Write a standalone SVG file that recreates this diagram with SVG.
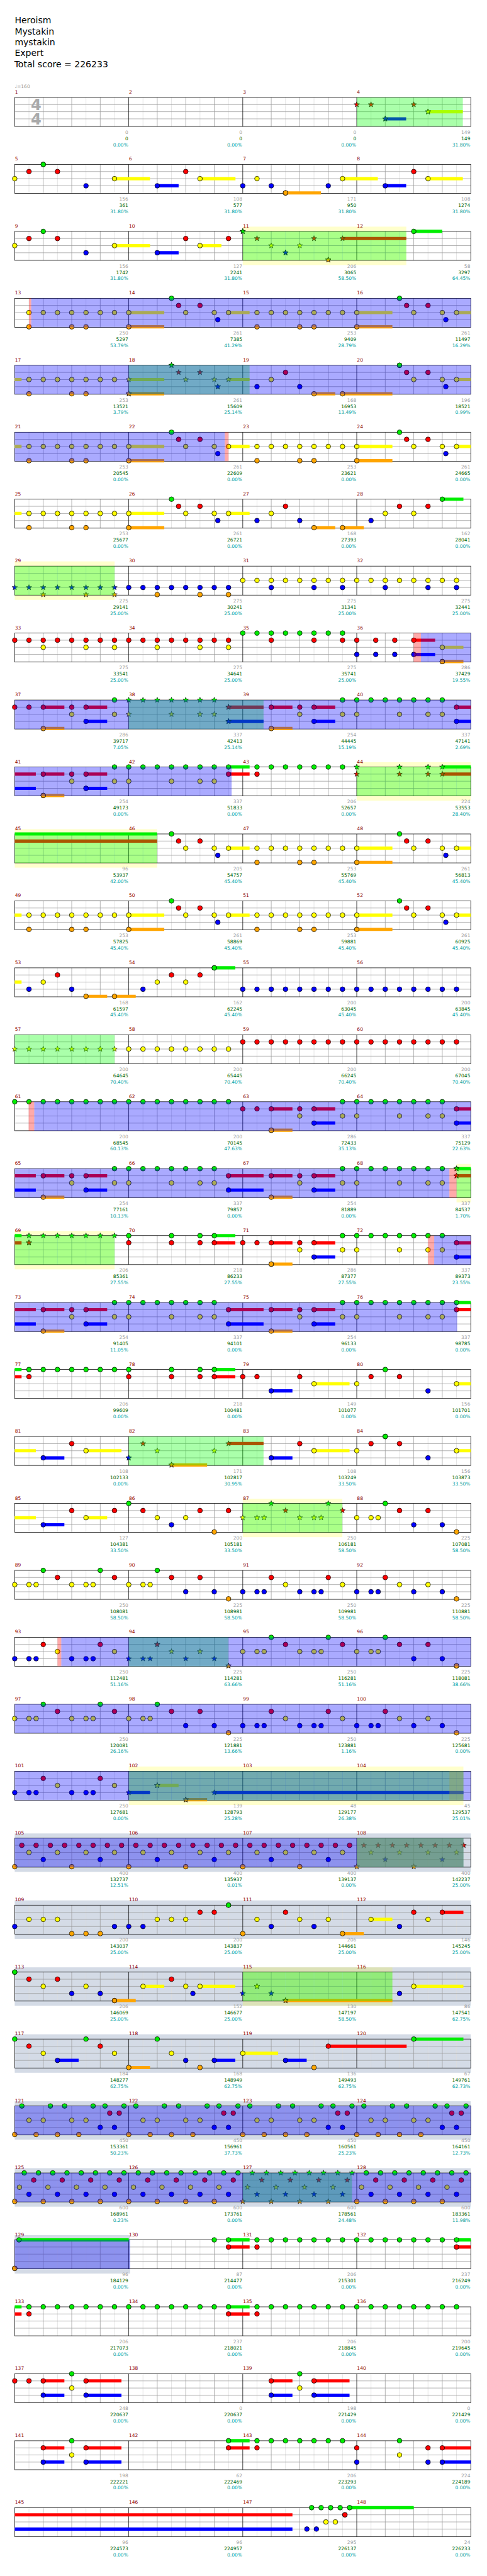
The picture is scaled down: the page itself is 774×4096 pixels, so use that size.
<svg xmlns="http://www.w3.org/2000/svg" width="774" height="4096" viewBox="0 0 774 4096">
<style>
text{font-family:"DejaVu Sans","Liberation Sans",sans-serif}
.hd{font-size:18.6px;fill:#000}
.mn{font-size:10px;fill:#8b0000}
.s1,.s2,.s3{font-size:10px;text-anchor:end}
.s1{fill:#a0a0a0}.s2{fill:#006400}.s3{fill:#00a0a0}
polyline{fill:none;stroke:none}
.nG{marker:url(#mG)}.nR{marker:url(#mR)}.nY{marker:url(#mY)}.nB{marker:url(#mB)}.nO{marker:url(#mO)}
.xG{marker:url(#sG)}.xR{marker:url(#sR)}.xY{marker:url(#sY)}.xB{marker:url(#sB)}.xO{marker:url(#sO)}
.uG,.uR,.uY,.uB,.uO{stroke-width:6.8;fill:none}
.uG{stroke:#0e0}.uR{stroke:#f00}.uY{stroke:#ff0}.uB{stroke:#00f}.uO{stroke:#ffa500}
.oG{fill:#0f0;fill-opacity:.333}.oB{fill:#00f;fill-opacity:.333}.oP{fill:#f00;fill-opacity:.333}.oO{fill:#99a54d;fill-opacity:.38}
.bY{fill:#ff0;fill-opacity:.2}.bS{fill:#d4dbe6}
</style>
<defs>
<polygon id="st" points="0,-6 1.47,-2.02 5.71,-1.85 2.38,0.77 3.53,4.85 0,2.5 -3.53,4.85 -2.38,0.77 -5.71,-1.85 -1.47,-2.02"/>
<marker id="mG" markerUnits="userSpaceOnUse" overflow="visible"><circle r="5" fill="#0e0" stroke="#000"/></marker>
<marker id="mR" markerUnits="userSpaceOnUse" overflow="visible"><circle r="5" fill="#f00" stroke="#000"/></marker>
<marker id="mY" markerUnits="userSpaceOnUse" overflow="visible"><circle r="5" fill="#ff0" stroke="#000"/></marker>
<marker id="mB" markerUnits="userSpaceOnUse" overflow="visible"><circle r="5" fill="#00f" stroke="#000"/></marker>
<marker id="mO" markerUnits="userSpaceOnUse" overflow="visible"><circle r="5" fill="#ffa500" stroke="#000"/></marker>
<marker id="sG" markerUnits="userSpaceOnUse" overflow="visible"><use href="#st" fill="#0e0" stroke="#000" stroke-width=".8"/></marker>
<marker id="sR" markerUnits="userSpaceOnUse" overflow="visible"><use href="#st" fill="#f00" stroke="#000" stroke-width=".8"/></marker>
<marker id="sY" markerUnits="userSpaceOnUse" overflow="visible"><use href="#st" fill="#ff0" stroke="#000" stroke-width=".8"/></marker>
<marker id="sB" markerUnits="userSpaceOnUse" overflow="visible"><use href="#st" fill="#00f" stroke="#000" stroke-width=".8"/></marker>
<marker id="sO" markerUnits="userSpaceOnUse" overflow="visible"><use href="#st" fill="#ffa500" stroke="#000" stroke-width=".8"/></marker>
<g id="grid" fill="none">
<path d="M30 0V61M90 0V61M150 0V61M210 0V61M270 0V61M330 0V61M390 0V61M450 0V61M510 0V61M570 0V61M630 0V61M690 0V61M750 0V61M810 0V61M870 0V61M930 0V61" stroke="#ddd"/>
<path d="M0 15H960M0 30H960M0 45H960M60 0V61M120 0V61M180 0V61M300 0V61M360 0V61M420 0V61M540 0V61M600 0V61M660 0V61M780 0V61M840 0V61M900 0V61" stroke="#999"/>
<path d="M240 0V61M480 0V61M720 0V61" stroke="#000"/>
<rect width="960" height="61" stroke="#000"/>
</g>
</defs>
<g transform="scale(0.755)">
<rect x="0" y="0" width="1024" height="5422" fill="#fff"/>
<g id="title" class="hd">
<text class="hd" x="31" y="49.3">Heroism</text>
<text class="hd" x="31" y="72.3">Mystakin</text>
<text class="hd" x="31" y="95.3">mystakin</text>
<text class="hd" x="31" y="118.3">Expert</text>
<text class="hd" x="30" y="141.3">Total score = 226233</text>
</g>
<text x="31" y="185" style="font-size:10px;fill:#999">♩=160</text>

<g id="r0" transform="translate(31,205.3)">
<use href="#grid"/>
<text x="34" y="26.4" style="font-size:32px;font-weight:bold;fill:#aaa">4</text>
<text x="34" y="56.4" style="font-size:32px;font-weight:bold;fill:#aaa">4</text>
<path class="uB" d="M780 45H824"/><path class="uY" d="M870 30H943.3"/>
<polyline class="xR" points="720,15 750,15 840,15"/><polyline class="xB" points="780,45 780,45"/><polyline class="xY" points="870,30 870,30"/>
<rect class="oG" x="720" width="223.3" height="61"/>
<text class="mn" y="-8"><tspan x="0.5">1</tspan><tspan x="240.5">2</tspan><tspan x="480.5">3</tspan><tspan x="720.5">4</tspan></text>
<text class="s1" y="76.5"><tspan x="239">0</tspan><tspan x="479">0</tspan><tspan x="719">0</tspan><tspan x="959">149</tspan></text>
<text class="s2" y="89.7"><tspan x="239">0</tspan><tspan x="479">0</tspan><tspan x="719">0</tspan><tspan x="959">149</tspan></text>
<text class="s3" y="102.7"><tspan x="239">0.00%</tspan><tspan x="479">0.00%</tspan><tspan x="719">0.00%</tspan><tspan x="959">31.80%</tspan></text>
</g>

<g id="r1" transform="translate(31,346.3)">
<use href="#grid"/>
<path class="uY" d="M210 30H284.7M390 30H464.7M690 30H764.3M870 30H943.3"/><path class="uB" d="M300 45H345M780 45H824"/><path class="uO" d="M570 60H644.7"/>
<polyline class="nY" points="0,30 210,30 390,30 510,30 690,30 870,30"/>
<polyline class="nR" points="30,15 90,15 360,15 840,15"/>
<polyline class="nG" points="60,0 60,0"/>
<polyline class="nB" points="150,45 300,45 480,45 540,45 660,45 780,45"/>
<polyline class="nO" points="570,60 570,60"/>
<text class="mn" y="-8"><tspan x="0.5">5</tspan><tspan x="240.5">6</tspan><tspan x="480.5">7</tspan><tspan x="720.5">8</tspan></text>
<text class="s1" y="76.5"><tspan x="239">156</tspan><tspan x="479">108</tspan><tspan x="719">171</tspan><tspan x="959">108</tspan></text>
<text class="s2" y="89.7"><tspan x="239">361</tspan><tspan x="479">577</tspan><tspan x="719">950</tspan><tspan x="959">1274</tspan></text>
<text class="s3" y="102.7"><tspan x="239">31.80%</tspan><tspan x="479">31.80%</tspan><tspan x="719">31.80%</tspan><tspan x="959">31.80%</tspan></text>
</g>

<g id="r2" transform="translate(31,487.3)">
<rect class="bY" x="480" y="-10" width="344.3" height="81"/>
<use href="#grid"/>
<path class="uY" d="M210 30H284.8M390 30H435"/><path class="uB" d="M300 45H345"/><path class="uR" d="M690 15H824.3"/><path class="uG" d="M840 0H900"/>
<polyline class="nY" points="0,30 210,30 390,30"/>
<polyline class="nR" points="30,15 90,15 360,15 450,15"/>
<polyline class="nG" points="60,0 840,0"/>
<polyline class="nB" points="150,45 300,45"/>
<polyline class="xG" points="480,0 480,0"/>
<polyline class="xR" points="510,15 630,15 690,15"/>
<polyline class="xY" points="540,30 600,30"/>
<polyline class="xB" points="570,45 570,45"/>
<polyline class="xO" points="660,60 660,60"/>
<rect class="oG" x="480" width="344.3" height="61"/>
<text class="mn" y="-8"><tspan x="0.5">9</tspan><tspan x="240.5">10</tspan><tspan x="480.5">11</tspan><tspan x="720.5">12</tspan></text>
<text class="s1" y="76.5"><tspan x="239">156</tspan><tspan x="479">127</tspan><tspan x="719">206</tspan><tspan x="959">58</tspan></text>
<text class="s2" y="89.7"><tspan x="239">1742</tspan><tspan x="479">2241</tspan><tspan x="719">3065</tspan><tspan x="959">3297</tspan></text>
<text class="s3" y="102.7"><tspan x="239">31.80%</tspan><tspan x="479">31.80%</tspan><tspan x="719">58.50%</tspan><tspan x="959">64.45%</tspan></text>
</g>

<g id="r3" transform="translate(31,628.3)">
<use href="#grid"/>
<path class="uY" d="M240 30H314.8M450 30H494.4M720 30H795M930 30H960"/><path class="uO" d="M240 60H314.8M720 60H795"/>
<polyline class="nY" points="30,30 60,30 90,30 120,30 150,30 180,30 210,30 240,30 360,30 420,30 450,30 510,30 540,30 570,30 600,30 630,30 660,30 690,30 720,30 840,30 900,30 930,30"/>
<polyline class="nR" points="345,15 390,15 825,15 870,15"/>
<polyline class="nG" points="330,0 810,0"/>
<polyline class="nB" points="427.5,45 907.5,45"/>
<polyline class="nO" points="30,60 120,60 150,60 240,60 510,60 600,60 630,60 720,60"/>
<rect class="oP" x="30" width="4.7" height="61"/><rect class="oB" x="34.7" width="925.3" height="61"/>
<text class="mn" y="-8"><tspan x="0.5">13</tspan><tspan x="240.5">14</tspan><tspan x="480.5">15</tspan><tspan x="720.5">16</tspan></text>
<text class="s1" y="76.5"><tspan x="239">250</tspan><tspan x="479">261</tspan><tspan x="719">253</tspan><tspan x="959">261</tspan></text>
<text class="s2" y="89.7"><tspan x="239">5297</tspan><tspan x="479">7385</tspan><tspan x="719">9409</tspan><tspan x="959">11497</tspan></text>
<text class="s3" y="102.7"><tspan x="239">53.79%</tspan><tspan x="479">41.29%</tspan><tspan x="719">28.79%</tspan><tspan x="959">16.29%</tspan></text>
</g>

<g id="r4" transform="translate(31,769.3)">
<use href="#grid"/>
<path class="uY" d="M0 30H14.4M240 30H314.8M450 30H494.4M930 30H960"/><path class="uO" d="M240 60H314.8M630 60H674.7M690 60H795"/>
<polyline class="nY" points="30,30 60,30 90,30 120,30 150,30 180,30 210,30 540,30 840,30 900,30 930,30"/>
<polyline class="nO" points="30,60 120,60 150,60 630,60 690,60"/>
<polyline class="nR" points="570,15 825,15 870,15"/>
<polyline class="nG" points="810,0 810,0"/>
<polyline class="nB" points="510,45 600,45 907.5,45"/>
<polyline class="xY" points="240,30 360,30 420,30 450,30"/>
<polyline class="xO" points="240,60 240,60"/>
<polyline class="xG" points="330,0 330,0"/>
<polyline class="xR" points="345,15 390,15"/>
<polyline class="xB" points="427.5,45 427.5,45"/>
<rect class="oG" x="240" width="254.4" height="61"/><rect class="oB" x="0" width="960" height="61"/>
<text class="mn" y="-8"><tspan x="0.5">17</tspan><tspan x="240.5">18</tspan><tspan x="480.5">19</tspan><tspan x="720.5">20</tspan></text>
<text class="s1" y="76.5"><tspan x="239">253</tspan><tspan x="479">261</tspan><tspan x="719">168</tspan><tspan x="959">196</tspan></text>
<text class="s2" y="89.7"><tspan x="239">13521</tspan><tspan x="479">15609</tspan><tspan x="719">16953</tspan><tspan x="959">18521</tspan></text>
<text class="s3" y="102.7"><tspan x="239">3.79%</tspan><tspan x="479">25.14%</tspan><tspan x="719">13.49%</tspan><tspan x="959">0.99%</tspan></text>
</g>

<g id="r5" transform="translate(31,910.3)">
<use href="#grid"/>
<path class="uY" d="M0 30H14.4M240 30H314.8M450 30H494.4M720 30H795M930 30H960"/><path class="uO" d="M240 60H314.8M720 60H795"/>
<polyline class="nY" points="30,30 60,30 90,30 120,30 150,30 180,30 210,30 240,30 360,30 420,30 450,30 510,30 540,30 570,30 600,30 630,30 660,30 690,30 720,30 840,30 900,30 930,30"/>
<polyline class="nR" points="345,15 390,15 825,15 870,15"/>
<polyline class="nG" points="330,0 810,0"/>
<polyline class="nB" points="427.5,45 907.5,45"/>
<polyline class="nO" points="30,60 120,60 150,60 240,60 510,60 600,60 630,60 720,60"/>
<rect class="oB" x="0" width="442.2" height="61"/><rect class="oP" x="442.2" width="7.8" height="61"/>
<text class="mn" y="-8"><tspan x="0.5">21</tspan><tspan x="240.5">22</tspan><tspan x="480.5">23</tspan><tspan x="720.5">24</tspan></text>
<text class="s1" y="76.5"><tspan x="239">253</tspan><tspan x="479">261</tspan><tspan x="719">253</tspan><tspan x="959">261</tspan></text>
<text class="s2" y="89.7"><tspan x="239">20545</tspan><tspan x="479">22609</tspan><tspan x="719">23621</tspan><tspan x="959">24665</tspan></text>
<text class="s3" y="102.7"><tspan x="239">0.00%</tspan><tspan x="479">0.00%</tspan><tspan x="719">0.00%</tspan><tspan x="959">0.00%</tspan></text>
</g>

<g id="r6" transform="translate(31,1051.3)">
<use href="#grid"/>
<path class="uY" d="M0 30H14.4M240 30H314.8M450 30H494.4"/><path class="uO" d="M240 60H314.8M630 60H674.7M690 60H734.8"/><path class="uG" d="M900 0H944.5"/>
<polyline class="nY" points="30,30 60,30 90,30 120,30 150,30 180,30 210,30 240,30 360,30 420,30 450,30 540,30 780,30 840,30"/>
<polyline class="nR" points="345,15 390,15 570,15 810,15 870,15"/>
<polyline class="nG" points="330,0 900,0"/>
<polyline class="nB" points="427.5,45 510,45 600,45 750,45"/>
<polyline class="nO" points="30,60 120,60 150,60 240,60 630,60 690,60"/>
<text class="mn" y="-8"><tspan x="0.5">25</tspan><tspan x="240.5">26</tspan><tspan x="480.5">27</tspan><tspan x="720.5">28</tspan></text>
<text class="s1" y="76.5"><tspan x="239">253</tspan><tspan x="479">261</tspan><tspan x="719">168</tspan><tspan x="959">162</tspan></text>
<text class="s2" y="89.7"><tspan x="239">25677</tspan><tspan x="479">26721</tspan><tspan x="719">27393</tspan><tspan x="959">28041</tspan></text>
<text class="s3" y="102.7"><tspan x="239">0.00%</tspan><tspan x="479">0.00%</tspan><tspan x="719">0.00%</tspan><tspan x="959">0.00%</tspan></text>
</g>

<g id="r7" transform="translate(31,1192.3)">
<rect class="bY" x="0" y="-10" width="210.3" height="81"/>
<use href="#grid"/>
<polyline class="xB" points="0,45 30,45 60,45 90,45 120,45 150,45 180,45 210,45"/>
<polyline class="xO" points="60,60 150,60 210,60"/>
<polyline class="nB" points="240,45 270,45 300,45 330,45 360,45 390,45 420,45 450,45 540,45 630,45 690,45 780,45 870,45 930,45"/>
<polyline class="nO" points="300,60 390,60 450,60"/>
<polyline class="nY" points="480,30 510,30 540,30 570,30 600,30 630,30 660,30 690,30 720,30 750,30 780,30 810,30 840,30 870,30 900,30 930,30"/>
<rect class="oG" x="0" width="210.3" height="61"/>
<text class="mn" y="-8"><tspan x="0.5">29</tspan><tspan x="240.5">30</tspan><tspan x="480.5">31</tspan><tspan x="720.5">32</tspan></text>
<text class="s1" y="76.5"><tspan x="239">275</tspan><tspan x="479">275</tspan><tspan x="719">275</tspan><tspan x="959">275</tspan></text>
<text class="s2" y="89.7"><tspan x="239">29141</tspan><tspan x="479">30241</tspan><tspan x="719">31341</tspan><tspan x="959">32441</tspan></text>
<text class="s3" y="102.7"><tspan x="239">25.00%</tspan><tspan x="479">25.00%</tspan><tspan x="719">25.00%</tspan><tspan x="959">25.00%</tspan></text>
</g>

<g id="r8" transform="translate(31,1333.3)">
<use href="#grid"/>
<path class="uR" d="M840 15H885"/><path class="uB" d="M840 45H885"/><path class="uY" d="M900 30H944.5"/><path class="uO" d="M900 60H944.5"/>
<polyline class="nR" points="0,15 30,15 60,15 90,15 120,15 150,15 180,15 210,15 240,15 270,15 300,15 330,15 360,15 390,15 420,15 450,15 540,15 630,15 690,15 720,15 760,15 800,15 840,15"/>
<polyline class="nY" points="60,30 150,30 210,30 300,30 390,30 450,30 900,30"/>
<polyline class="nG" points="480,0 510,0 540,0 570,0 600,0 630,0 660,0 690,0"/>
<polyline class="nB" points="720,45 760,45 800,45 840,45"/>
<polyline class="nO" points="900,60 900,60"/>
<rect class="oP" x="839.8" width="15.2" height="61"/><rect class="oB" x="855" width="105" height="61"/>
<text class="mn" y="-8"><tspan x="0.5">33</tspan><tspan x="240.5">34</tspan><tspan x="480.5">35</tspan><tspan x="720.5">36</tspan></text>
<text class="s1" y="76.5"><tspan x="239">275</tspan><tspan x="479">275</tspan><tspan x="719">275</tspan><tspan x="959">286</tspan></text>
<text class="s2" y="89.7"><tspan x="239">33541</tspan><tspan x="479">34641</tspan><tspan x="719">35741</tspan><tspan x="959">37429</tspan></text>
<text class="s3" y="102.7"><tspan x="239">25.00%</tspan><tspan x="479">25.00%</tspan><tspan x="719">25.00%</tspan><tspan x="959">19.55%</tspan></text>
</g>

<g id="r9" transform="translate(31,1474.3)">
<use href="#grid"/>
<path class="uR" d="M60 15H104.5M150 15H194.6M450 15H523.8M540 15H584.6M630 15H674.7M930 15H960"/><path class="uB" d="M150 45H194.6M450 45H523.8M630 45H674.7M930 45H960"/><path class="uO" d="M60 60H104.5M540 60H584.6"/>
<polyline class="nR" points="0,15 30,15 60,15 120,15 150,15 540,15 600,15 630,15 930,15"/>
<polyline class="nY" points="120,30 210,30 600,30 690,30 720,30 810,30 870,30 900,30"/>
<polyline class="nG" points="210,0 690,0 720,0 750,0 780,0 810,0 840,0 870,0 900,0"/>
<polyline class="nB" points="150,45 630,45 930,45"/>
<polyline class="nO" points="60,60 540,60"/>
<polyline class="xG" points="240,0 270,0 300,0 330,0 360,0 390,0 420,0"/>
<polyline class="xY" points="240,30 330,30 390,30 420,30"/>
<polyline class="xR" points="450,15 450,15"/>
<polyline class="xB" points="450,45 450,45"/>
<rect class="oG" x="240" width="283.8" height="61"/><rect class="oB" x="0" width="960" height="61"/>
<text class="mn" y="-8"><tspan x="0.5">37</tspan><tspan x="240.5">38</tspan><tspan x="480.5">39</tspan><tspan x="720.5">40</tspan></text>
<text class="s1" y="76.5"><tspan x="239">286</tspan><tspan x="479">337</tspan><tspan x="719">254</tspan><tspan x="959">337</tspan></text>
<text class="s2" y="89.7"><tspan x="239">39717</tspan><tspan x="479">42413</tspan><tspan x="719">44445</tspan><tspan x="959">47141</tspan></text>
<text class="s3" y="102.7"><tspan x="239">7.05%</tspan><tspan x="479">25.14%</tspan><tspan x="719">15.19%</tspan><tspan x="959">2.69%</tspan></text>
</g>

<g id="r10" transform="translate(31,1615.3)">
<rect class="bY" x="719.8" y="-10" width="240.2" height="81"/>
<use href="#grid"/>
<path class="uR" d="M0 15H44.4M60 15H104.5M150 15H194.6M450 15H494.4M900 15H960"/><path class="uB" d="M0 45H44.4M150 45H194.6"/><path class="uO" d="M60 60H104.5"/><path class="uG" d="M450 0H494.4M900 0H960"/>
<polyline class="nR" points="60,15 120,15 150,15 450,15 510,15"/>
<polyline class="nO" points="60,60 60,60"/>
<polyline class="nY" points="120,30 210,30 240,30 330,30 390,30 420,30"/>
<polyline class="nB" points="150,45 150,45"/>
<polyline class="nG" points="210,0 240,0 270,0 300,0 330,0 360,0 390,0 420,0 450,0 510,0 540,0 570,0 600,0 630,0 660,0 690,0"/>
<polyline class="xG" points="720,0 810,0 870,0 900,0"/>
<polyline class="xR" points="720,15 810,15 870,15 900,15"/>
<rect class="oG" x="719.8" width="240.2" height="61"/><rect class="oB" x="0" width="456.6" height="61"/>
<text class="mn" y="-8"><tspan x="0.5">41</tspan><tspan x="240.5">42</tspan><tspan x="480.5">43</tspan><tspan x="720.5">44</tspan></text>
<text class="s1" y="76.5"><tspan x="239">254</tspan><tspan x="479">337</tspan><tspan x="719">206</tspan><tspan x="959">224</tspan></text>
<text class="s2" y="89.7"><tspan x="239">49173</tspan><tspan x="479">51833</tspan><tspan x="719">52657</tspan><tspan x="959">53553</tspan></text>
<text class="s3" y="102.7"><tspan x="239">0.00%</tspan><tspan x="479">0.00%</tspan><tspan x="719">0.00%</tspan><tspan x="959">28.40%</tspan></text>
</g>

<g id="r11" transform="translate(31,1756.3)">
<rect class="bY" x="0" y="-10" width="299.8" height="81"/>
<use href="#grid"/>
<path class="uG" d="M0 0H299.8"/><path class="uR" d="M0 15H299.8"/><path class="uY" d="M450 30H494.4M720 30H795M930 30H960"/><path class="uO" d="M720 60H795"/>
<polyline class="nG" points="330,0 810,0"/>
<polyline class="nR" points="345,15 390,15 825,15 870,15"/>
<polyline class="nY" points="360,30 420,30 450,30 510,30 540,30 570,30 600,30 630,30 660,30 690,30 720,30 840,30 900,30 930,30"/>
<polyline class="nB" points="427.5,45 907.5,45"/>
<polyline class="nO" points="510,60 600,60 630,60 720,60"/>
<rect class="oG" x="0" width="299.8" height="61"/>
<text class="mn" y="-8"><tspan x="0.5">45</tspan><tspan x="240.5">46</tspan><tspan x="480.5">47</tspan><tspan x="720.5">48</tspan></text>
<text class="s1" y="76.5"><tspan x="239">96</tspan><tspan x="479">205</tspan><tspan x="719">253</tspan><tspan x="959">261</tspan></text>
<text class="s2" y="89.7"><tspan x="239">53937</tspan><tspan x="479">54757</tspan><tspan x="719">55769</tspan><tspan x="959">56813</tspan></text>
<text class="s3" y="102.7"><tspan x="239">42.00%</tspan><tspan x="479">45.40%</tspan><tspan x="719">45.40%</tspan><tspan x="959">45.40%</tspan></text>
</g>

<g id="r12" transform="translate(31,1897.3)">
<use href="#grid"/>
<path class="uY" d="M0 30H14.4M240 30H314.8M450 30H494.4M720 30H795M930 30H960"/><path class="uO" d="M240 60H314.8M720 60H795"/>
<polyline class="nY" points="30,30 60,30 90,30 120,30 150,30 180,30 210,30 240,30 360,30 420,30 450,30 510,30 540,30 570,30 600,30 630,30 660,30 690,30 720,30 840,30 900,30 930,30"/>
<polyline class="nR" points="345,15 390,15 825,15 870,15"/>
<polyline class="nG" points="330,0 810,0"/>
<polyline class="nB" points="427.5,45 907.5,45"/>
<polyline class="nO" points="30,60 120,60 150,60 240,60 510,60 600,60 630,60 720,60"/>
<text class="mn" y="-8"><tspan x="0.5">49</tspan><tspan x="240.5">50</tspan><tspan x="480.5">51</tspan><tspan x="720.5">52</tspan></text>
<text class="s1" y="76.5"><tspan x="239">253</tspan><tspan x="479">261</tspan><tspan x="719">253</tspan><tspan x="959">261</tspan></text>
<text class="s2" y="89.7"><tspan x="239">57825</tspan><tspan x="479">58869</tspan><tspan x="719">59881</tspan><tspan x="959">60925</tspan></text>
<text class="s3" y="102.7"><tspan x="239">45.40%</tspan><tspan x="479">45.40%</tspan><tspan x="719">45.40%</tspan><tspan x="959">45.40%</tspan></text>
</g>

<g id="r13" transform="translate(31,2038.3)">
<use href="#grid"/>
<path class="uY" d="M0 30H14.4"/><path class="uO" d="M150 60H194.6M210 60H254.7"/><path class="uG" d="M420 0H464.4"/>
<polyline class="nB" points="30,45 120,45 270,45 480,45 510,45 540,45 570,45 600,45 630,45 660,45 690,45 720,45 750,45 780,45 810,45 840,45 870,45 900,45 930,45"/>
<polyline class="nY" points="60,30 300,30 360,30"/>
<polyline class="nR" points="90,15 330,15 390,15"/>
<polyline class="nO" points="150,60 210,60"/>
<polyline class="nG" points="420,0 420,0"/>
<text class="mn" y="-8"><tspan x="0.5">53</tspan><tspan x="240.5">54</tspan><tspan x="480.5">55</tspan><tspan x="720.5">56</tspan></text>
<text class="s1" y="76.5"><tspan x="239">168</tspan><tspan x="479">162</tspan><tspan x="719">200</tspan><tspan x="959">200</tspan></text>
<text class="s2" y="89.7"><tspan x="239">61597</tspan><tspan x="479">62245</tspan><tspan x="719">63045</tspan><tspan x="959">63845</tspan></text>
<text class="s3" y="102.7"><tspan x="239">45.40%</tspan><tspan x="479">45.40%</tspan><tspan x="719">45.40%</tspan><tspan x="959">45.40%</tspan></text>
</g>

<g id="r14" transform="translate(31,2179.3)">
<use href="#grid"/>
<polyline class="xY" points="0,30 30,30 60,30 90,30 120,30 150,30 180,30 210,30"/>
<polyline class="nY" points="240,30 270,30 300,30 330,30 360,30 390,30 420,30 450,30"/>
<polyline class="nR" points="480,15 510,15 540,15 570,15 600,15 630,15 660,15 690,15 720,15 750,15 780,15 810,15 840,15 870,15 900,15 930,15"/>
<rect class="oG" x="0" width="210.3" height="61"/>
<text class="mn" y="-8"><tspan x="0.5">57</tspan><tspan x="240.5">58</tspan><tspan x="480.5">59</tspan><tspan x="720.5">60</tspan></text>
<text class="s1" y="76.5"><tspan x="239">200</tspan><tspan x="479">200</tspan><tspan x="719">200</tspan><tspan x="959">200</tspan></text>
<text class="s2" y="89.7"><tspan x="239">64645</tspan><tspan x="479">65445</tspan><tspan x="719">66245</tspan><tspan x="959">67045</tspan></text>
<text class="s3" y="102.7"><tspan x="239">70.40%</tspan><tspan x="479">70.40%</tspan><tspan x="719">70.40%</tspan><tspan x="959">70.40%</tspan></text>
</g>

<g id="r15" transform="translate(31,2320.3)">
<use href="#grid"/>
<path class="uR" d="M540 15H584.6M630 15H674.7M930 15H960"/><path class="uB" d="M630 45H674.7M930 45H960"/><path class="uO" d="M540 60H584.6"/>
<polyline class="nG" points="0,0 30,0 60,0 90,0 120,0 150,0 180,0 210,0 240,0 270,0 300,0 330,0 360,0 390,0 420,0 450,0 690,0 720,0 750,0 780,0 810,0 840,0 870,0 900,0"/>
<polyline class="nR" points="480,15 510,15 540,15 600,15 630,15 930,15"/>
<polyline class="nY" points="600,30 690,30 720,30 810,30 870,30 900,30"/>
<polyline class="nB" points="630,45 930,45"/>
<polyline class="nO" points="540,60 540,60"/>
<rect class="oP" x="29.4" width="11.7" height="61"/><rect class="oB" x="41.1" width="918.9" height="61"/>
<text class="mn" y="-8"><tspan x="0.5">61</tspan><tspan x="240.5">62</tspan><tspan x="480.5">63</tspan><tspan x="720.5">64</tspan></text>
<text class="s1" y="76.5"><tspan x="239">200</tspan><tspan x="479">200</tspan><tspan x="719">286</tspan><tspan x="959">337</tspan></text>
<text class="s2" y="89.7"><tspan x="239">68545</tspan><tspan x="479">70145</tspan><tspan x="719">72433</tspan><tspan x="959">75129</tspan></text>
<text class="s3" y="102.7"><tspan x="239">60.13%</tspan><tspan x="479">47.63%</tspan><tspan x="719">35.13%</tspan><tspan x="959">22.63%</tspan></text>
</g>

<g id="r16" transform="translate(31,2461.3)">
<rect class="bY" x="930" y="-10" width="30" height="81"/>
<use href="#grid"/>
<path class="uR" d="M0 15H44.4M60 15H104.5M150 15H194.6M450 15H523.8M540 15H584.6M630 15H674.7M930 15H960"/><path class="uB" d="M0 45H44.4M150 45H194.6M450 45H523.8M630 45H674.7"/><path class="uO" d="M60 60H104.5M540 60H584.6"/><path class="uG" d="M930 0H960"/>
<polyline class="nR" points="60,15 120,15 150,15 450,15 540,15 600,15 630,15"/>
<polyline class="nO" points="60,60 540,60"/>
<polyline class="nY" points="120,30 210,30 240,30 330,30 390,30 420,30 600,30 690,30 720,30 810,30 870,30 900,30"/>
<polyline class="nB" points="150,45 450,45 630,45"/>
<polyline class="nG" points="210,0 240,0 270,0 300,0 330,0 360,0 390,0 420,0 690,0 720,0 750,0 780,0 810,0 840,0 870,0 900,0"/>
<polyline class="xG" points="930,0 930,0"/>
<polyline class="xR" points="930,15 930,15"/>
<rect class="oG" x="930" width="30" height="61"/><rect class="oB" x="0" width="915" height="61"/><rect class="oP" x="915" width="15" height="61"/>
<text class="mn" y="-8"><tspan x="0.5">65</tspan><tspan x="240.5">66</tspan><tspan x="480.5">67</tspan><tspan x="720.5">68</tspan></text>
<text class="s1" y="76.5"><tspan x="239">254</tspan><tspan x="479">337</tspan><tspan x="719">254</tspan><tspan x="959">337</tspan></text>
<text class="s2" y="89.7"><tspan x="239">77161</tspan><tspan x="479">79857</tspan><tspan x="719">81889</tspan><tspan x="959">84537</tspan></text>
<text class="s3" y="102.7"><tspan x="239">10.13%</tspan><tspan x="479">0.00%</tspan><tspan x="719">0.00%</tspan><tspan x="959">1.70%</tspan></text>
</g>

<g id="r17" transform="translate(31,2602.3)">
<rect class="bY" x="0" y="-10" width="210.3" height="81"/>
<use href="#grid"/>
<path class="uG" d="M0 0H14.4M420 0H464.4"/><path class="uR" d="M0 15H14.4M420 15H464.4M540 15H584.6M630 15H674.7M930 15H960"/><path class="uO" d="M540 60H584.6"/><path class="uB" d="M630 45H674.7M930 45H960"/>
<polyline class="xG" points="30,0 60,0 90,0 120,0 150,0 180,0 210,0"/>
<polyline class="xR" points="30,15 30,15"/>
<polyline class="nG" points="240,0 330,0 390,0 420,0 690,0 720,0 750,0 780,0 810,0 840,0 870,0 900,0"/>
<polyline class="nR" points="240,15 330,15 390,15 420,15 480,15 510,15 540,15 600,15 630,15 930,15"/>
<polyline class="nO" points="540,60 540,60"/>
<polyline class="nY" points="600,30 690,30 720,30 810,30 870,30 900,30"/>
<polyline class="nB" points="630,45 930,45"/>
<rect class="oG" x="0" width="210.3" height="61"/><rect class="oP" x="870" width="13" height="61"/><rect class="oB" x="883" width="77" height="61"/>
<text class="mn" y="-8"><tspan x="0.5">69</tspan><tspan x="240.5">70</tspan><tspan x="480.5">71</tspan><tspan x="720.5">72</tspan></text>
<text class="s1" y="76.5"><tspan x="239">206</tspan><tspan x="479">218</tspan><tspan x="719">286</tspan><tspan x="959">337</tspan></text>
<text class="s2" y="89.7"><tspan x="239">85361</tspan><tspan x="479">86233</tspan><tspan x="719">87377</tspan><tspan x="959">89373</tspan></text>
<text class="s3" y="102.7"><tspan x="239">27.55%</tspan><tspan x="479">27.55%</tspan><tspan x="719">27.55%</tspan><tspan x="959">23.55%</tspan></text>
</g>

<g id="r18" transform="translate(31,2743.3)">
<use href="#grid"/>
<path class="uR" d="M0 15H44.4M60 15H104.5M150 15H194.6M450 15H523.8M540 15H584.6M630 15H674.7M930 15H960"/><path class="uB" d="M0 45H44.4M150 45H194.6M450 45H523.8M630 45H674.7"/><path class="uO" d="M60 60H104.5M540 60H584.6"/><path class="uG" d="M930 0H960"/>
<polyline class="nR" points="60,15 120,15 150,15 450,15 540,15 600,15 630,15 930,15"/>
<polyline class="nO" points="60,60 540,60"/>
<polyline class="nY" points="120,30 210,30 240,30 330,30 390,30 420,30 600,30 690,30 720,30 810,30 870,30 900,30"/>
<polyline class="nB" points="150,45 450,45 630,45"/>
<polyline class="nG" points="210,0 240,0 270,0 300,0 330,0 360,0 390,0 420,0 690,0 720,0 750,0 780,0 810,0 840,0 870,0 900,0 930,0"/>
<rect class="oB" x="0" width="931.4" height="61"/>
<text class="mn" y="-8"><tspan x="0.5">73</tspan><tspan x="240.5">74</tspan><tspan x="480.5">75</tspan><tspan x="720.5">76</tspan></text>
<text class="s1" y="76.5"><tspan x="239">254</tspan><tspan x="479">337</tspan><tspan x="719">254</tspan><tspan x="959">337</tspan></text>
<text class="s2" y="89.7"><tspan x="239">91405</tspan><tspan x="479">94101</tspan><tspan x="719">96133</tspan><tspan x="959">98785</tspan></text>
<text class="s3" y="102.7"><tspan x="239">11.05%</tspan><tspan x="479">0.00%</tspan><tspan x="719">0.00%</tspan><tspan x="959">0.00%</tspan></text>
</g>

<g id="r19" transform="translate(31,2884.3)">
<use href="#grid"/>
<path class="uG" d="M0 0H14.4M420 0H464.4"/><path class="uR" d="M0 15H14.4M420 15H464.4"/><path class="uB" d="M540 45H584.6"/><path class="uY" d="M630 30H704.8M930 30H960"/>
<polyline class="nG" points="30,0 60,0 90,0 120,0 150,0 180,0 210,0 240,0 330,0 390,0 420,0 780,0"/>
<polyline class="nR" points="30,15 240,15 330,15 390,15 420,15 480,15 510,15 600,15 750,15 810,15"/>
<polyline class="nB" points="540,45 870,45"/>
<polyline class="nY" points="630,30 720,30 930,30"/>
<text class="mn" y="-8"><tspan x="0.5">77</tspan><tspan x="240.5">78</tspan><tspan x="480.5">79</tspan><tspan x="720.5">80</tspan></text>
<text class="s1" y="76.5"><tspan x="239">206</tspan><tspan x="479">218</tspan><tspan x="719">149</tspan><tspan x="959">156</tspan></text>
<text class="s2" y="89.7"><tspan x="239">99609</tspan><tspan x="479">100481</tspan><tspan x="719">101077</tspan><tspan x="959">101701</tspan></text>
<text class="s3" y="102.7"><tspan x="239">0.00%</tspan><tspan x="479">0.00%</tspan><tspan x="719">0.00%</tspan><tspan x="959">0.00%</tspan></text>
</g>

<g id="r20" transform="translate(31,3025.3)">
<use href="#grid"/>
<path class="uY" d="M0 30H44.4M150 30H224.7M630 30H704.8M930 30H960"/><path class="uB" d="M60 45H104.5M540 45H584.6"/><path class="uO" d="M330 60H405"/><path class="uR" d="M450 15H523.8"/>
<polyline class="nB" points="60,45 540,45 870,45"/>
<polyline class="nR" points="120,15 600,15 750,15 810,15"/>
<polyline class="nY" points="150,30 630,30 720,30 930,30"/>
<polyline class="nG" points="780,0 780,0"/>
<polyline class="xB" points="240,45 240,45"/>
<polyline class="xR" points="270,15 450,15"/>
<polyline class="xY" points="300,30 420,30"/>
<polyline class="xO" points="330,60 330,60"/>
<rect class="oG" x="240" width="283.8" height="61"/>
<text class="mn" y="-8"><tspan x="0.5">81</tspan><tspan x="240.5">82</tspan><tspan x="480.5">83</tspan><tspan x="720.5">84</tspan></text>
<text class="s1" y="76.5"><tspan x="239">108</tspan><tspan x="479">171</tspan><tspan x="719">108</tspan><tspan x="959">156</tspan></text>
<text class="s2" y="89.7"><tspan x="239">102133</tspan><tspan x="479">102817</tspan><tspan x="719">103249</tspan><tspan x="959">103873</tspan></text>
<text class="s3" y="102.7"><tspan x="239">0.00%</tspan><tspan x="479">30.95%</tspan><tspan x="719">33.50%</tspan><tspan x="959">33.50%</tspan></text>
</g>

<g id="r21" transform="translate(31,3166.3)">
<rect class="bY" x="480" y="-10" width="209.7" height="81"/>
<use href="#grid"/>
<path class="uY" d="M0 30H44.4M150 30H194.6"/><path class="uB" d="M60 45H104.5"/>
<polyline class="nB" points="60,45 330,45 840,45 900,45"/>
<polyline class="nR" points="120,15 210,15 270,15 390,15 450,15 810,15 870,15"/>
<polyline class="nY" points="150,30 300,30 360,30 720,30 750,30 765,30"/>
<polyline class="nG" points="240,0 780,0"/>
<polyline class="nO" points="420,60 930,60"/>
<polyline class="xY" points="480,30 510,30 525,30 600,30 630,30 645,30"/>
<polyline class="xG" points="540,0 660,0"/>
<polyline class="xR" points="570,15 690,15"/>
<rect class="oG" x="480" width="209.7" height="61"/>
<text class="mn" y="-8"><tspan x="0.5">85</tspan><tspan x="240.5">86</tspan><tspan x="480.5">87</tspan><tspan x="720.5">88</tspan></text>
<text class="s1" y="76.5"><tspan x="239">127</tspan><tspan x="479">200</tspan><tspan x="719">250</tspan><tspan x="959">225</tspan></text>
<text class="s2" y="89.7"><tspan x="239">104381</tspan><tspan x="479">105181</tspan><tspan x="719">106181</tspan><tspan x="959">107081</tspan></text>
<text class="s3" y="102.7"><tspan x="239">33.50%</tspan><tspan x="479">33.50%</tspan><tspan x="719">58.50%</tspan><tspan x="959">58.50%</tspan></text>
</g>

<g id="r22" transform="translate(31,3307.3)">
<use href="#grid"/>
<polyline class="nY" points="0,30 30,30 45,30 120,30 150,30 165,30 240,30 270,30 285,30 570,30 690,30 810,30 870,30"/>
<polyline class="nG" points="60,0 180,0 300,0"/>
<polyline class="nR" points="90,15 210,15 330,15 390,15 540,15 660,15 780,15"/>
<polyline class="nB" points="360,45 420,45 480,45 510,45 525,45 600,45 630,45 645,45 720,45 750,45 765,45 840,45 900,45"/>
<polyline class="nO" points="450,60 930,60"/>
<text class="mn" y="-8"><tspan x="0.5">89</tspan><tspan x="240.5">90</tspan><tspan x="480.5">91</tspan><tspan x="720.5">92</tspan></text>
<text class="s1" y="76.5"><tspan x="239">250</tspan><tspan x="479">225</tspan><tspan x="719">250</tspan><tspan x="959">225</tspan></text>
<text class="s2" y="89.7"><tspan x="239">108081</tspan><tspan x="479">108981</tspan><tspan x="719">109981</tspan><tspan x="959">110881</tspan></text>
<text class="s3" y="102.7"><tspan x="239">58.50%</tspan><tspan x="479">58.50%</tspan><tspan x="719">58.50%</tspan><tspan x="959">58.50%</tspan></text>
</g>

<g id="r23" transform="translate(31,3448.3)">
<use href="#grid"/>
<polyline class="nB" points="0,45 30,45 45,45 120,45 150,45 165,45 840,45 900,45"/>
<polyline class="nR" points="60,15 180,15 570,15 690,15 810,15 870,15"/>
<polyline class="nY" points="90,30 210,30 480,30 510,30 525,30 600,30 630,30 645,30 720,30 750,30 765,30"/>
<polyline class="nG" points="540,0 660,0 780,0"/>
<polyline class="nO" points="930,60 930,60"/>
<polyline class="xB" points="240,45 270,45 285,45 360,45 420,45"/>
<polyline class="xR" points="300,15 300,15"/>
<polyline class="xY" points="330,30 390,30"/>
<polyline class="xO" points="450,60 450,60"/>
<rect class="oG" x="240" width="210" height="61"/><rect class="oP" x="90.1" width="7.9" height="61"/><rect class="oB" x="98" width="862" height="61"/>
<text class="mn" y="-8"><tspan x="0.5">93</tspan><tspan x="240.5">94</tspan><tspan x="480.5">95</tspan><tspan x="720.5">96</tspan></text>
<text class="s1" y="76.5"><tspan x="239">250</tspan><tspan x="479">225</tspan><tspan x="719">250</tspan><tspan x="959">225</tspan></text>
<text class="s2" y="89.7"><tspan x="239">112481</tspan><tspan x="479">114281</tspan><tspan x="719">116281</tspan><tspan x="959">118081</tspan></text>
<text class="s3" y="102.7"><tspan x="239">51.16%</tspan><tspan x="479">63.66%</tspan><tspan x="719">51.16%</tspan><tspan x="959">38.66%</tspan></text>
</g>

<g id="r24" transform="translate(31,3589.3)">
<use href="#grid"/>
<polyline class="nY" points="0,30 30,30 45,30 120,30 150,30 165,30 240,30 270,30 285,30 570,30 690,30 810,30 870,30"/>
<polyline class="nG" points="60,0 180,0 300,0"/>
<polyline class="nR" points="90,15 210,15 330,15 390,15 540,15 660,15 780,15"/>
<polyline class="nB" points="360,45 420,45 480,45 510,45 525,45 600,45 630,45 645,45 720,45 750,45 765,45 840,45 900,45"/>
<polyline class="nO" points="450,60 930,60"/>
<rect class="oB" x="0" width="960" height="61"/>
<text class="mn" y="-8"><tspan x="0.5">97</tspan><tspan x="240.5">98</tspan><tspan x="480.5">99</tspan><tspan x="720.5">100</tspan></text>
<text class="s1" y="76.5"><tspan x="239">250</tspan><tspan x="479">225</tspan><tspan x="719">250</tspan><tspan x="959">225</tspan></text>
<text class="s2" y="89.7"><tspan x="239">120081</tspan><tspan x="479">121881</tspan><tspan x="719">123881</tspan><tspan x="959">125681</tspan></text>
<text class="s3" y="102.7"><tspan x="239">26.16%</tspan><tspan x="479">13.66%</tspan><tspan x="719">1.16%</tspan><tspan x="959">0.00%</tspan></text>
</g>

<g id="r25" transform="translate(31,3730.3)">
<rect class="bY" x="240" y="-10" width="704.5" height="81"/>
<use href="#grid"/>
<path class="uB" d="M240 45H284.8M420 45H944.5"/><path class="uY" d="M300 30H344.9"/><path class="uO" d="M360 60H405"/>
<polyline class="nB" points="0,45 30,45 45,45 120,45 150,45 165,45"/>
<polyline class="nR" points="60,15 180,15"/>
<polyline class="nY" points="90,30 210,30"/>
<polyline class="xB" points="240,45 420,45"/>
<polyline class="xY" points="300,30 300,30"/>
<polyline class="xO" points="360,60 360,60"/>
<rect class="oG" x="240" width="704.5" height="61"/><rect class="oB" x="0" width="960" height="61"/><rect class="oO" x="915" width="29.5" height="61"/>
<text class="mn" y="-8"><tspan x="0.5">101</tspan><tspan x="240.5">102</tspan><tspan x="480.5">103</tspan><tspan x="720.5">104</tspan></text>
<text class="s1" y="76.5"><tspan x="239">250</tspan><tspan x="479">139</tspan><tspan x="719">48</tspan><tspan x="959">45</tspan></text>
<text class="s2" y="89.7"><tspan x="239">127681</tspan><tspan x="479">128793</tspan><tspan x="719">129177</tspan><tspan x="959">129537</tspan></text>
<text class="s3" y="102.7"><tspan x="239">0.00%</tspan><tspan x="479">25.28%</tspan><tspan x="719">26.38%</tspan><tspan x="959">25.01%</tspan></text>
</g>

<g id="r26" transform="translate(31,3871.3)">
<rect class="bS" x="0" y="-10" width="960" height="81"/>
<use href="#grid"/>
<polyline class="nR" points="15,15 45,15 75,15 105,15 135,15 165,15 195,15 225,15 255,15 285,15 315,15 345,15 375,15 405,15 435,15 465,15 495,15 525,15 555,15 585,15 615,15 645,15 675,15 705,15"/>
<polyline class="xR" points="735,15 765,15 795,15 825,15 855,15 885,15 915,15 945,15"/>
<polyline class="nY" points="30,30 90,30 150,30 210,30 270,30 330,30 390,30 450,30 510,30 570,30 630,30 690,30"/>
<polyline class="xY" points="750,30 810,30 870,30 930,30"/>
<polyline class="nB" points="60,45 180,45 300,45 420,45 540,45 660,45"/>
<polyline class="xB" points="780,45 900,45"/>
<polyline class="nO" points="0,60 120,60 240,60 360,60 480,60 600,60"/>
<polyline class="xO" points="720,60 840,60"/>
<rect class="oG" x="720" width="224.5" height="61"/><rect class="oB" x="0" width="944.5" height="61"/><rect class="oO" x="720" width="224.5" height="61"/>
<text class="mn" y="-8"><tspan x="0.5">105</tspan><tspan x="240.5">106</tspan><tspan x="480.5">107</tspan><tspan x="720.5">108</tspan></text>
<text class="s1" y="76.5"><tspan x="239">400</tspan><tspan x="479">400</tspan><tspan x="719">400</tspan><tspan x="959">400</tspan></text>
<text class="s2" y="89.7"><tspan x="239">132737</tspan><tspan x="479">135937</tspan><tspan x="719">139137</tspan><tspan x="959">142237</tspan></text>
<text class="s3" y="102.7"><tspan x="239">12.51%</tspan><tspan x="479">0.01%</tspan><tspan x="719">0.00%</tspan><tspan x="959">25.00%</tspan></text>
</g>

<g id="r27" transform="translate(31,4012.3)">
<rect class="bS" x="0" y="-10" width="960" height="81"/>
<use href="#grid"/>
<path class="uY" d="M750 30H795"/><path class="uO" d="M690 60H734.8"/><path class="uR" d="M900 15H944.5"/>
<polyline class="nB" points="0,45 210,45 240,45 270,45 540,45 630,45 810,45"/>
<polyline class="nY" points="30,30 60,30 90,30 300,30 330,30 360,30 510,30 600,30 660,30 750,30 870,30"/>
<polyline class="nO" points="120,60 150,60 180,60 480,60 690,60"/>
<polyline class="nR" points="390,15 420,15 570,15 840,15 900,15"/>
<polyline class="nG" points="450,0 450,0"/>
<text class="mn" y="-8"><tspan x="0.5">109</tspan><tspan x="240.5">110</tspan><tspan x="480.5">111</tspan><tspan x="720.5">112</tspan></text>
<text class="s1" y="76.5"><tspan x="239">200</tspan><tspan x="479">200</tspan><tspan x="719">206</tspan><tspan x="959">146</tspan></text>
<text class="s2" y="89.7"><tspan x="239">143037</tspan><tspan x="479">143837</tspan><tspan x="719">144661</tspan><tspan x="959">145245</tspan></text>
<text class="s3" y="102.7"><tspan x="239">25.00%</tspan><tspan x="479">25.00%</tspan><tspan x="719">25.00%</tspan><tspan x="959">25.00%</tspan></text>
</g>

<g id="r28" transform="translate(31,4153.3)">
<rect class="bS" x="0" y="-10" width="960" height="81"/>
<rect class="bY" x="480" y="-10" width="315" height="81"/>
<use href="#grid"/>
<path class="uO" d="M210 60H254.7M570 60H795"/><path class="uY" d="M270 30H314.8M390 30H464.4M840 30H944.5"/>
<polyline class="nG" points="0,0 0,0"/>
<polyline class="nR" points="30,15 90,15 330,15"/>
<polyline class="nY" points="60,30 150,30 270,30 360,30 390,30 840,30"/>
<polyline class="nB" points="120,45 180,45 375,45 810,45"/>
<polyline class="nO" points="210,60 210,60"/>
<polyline class="xB" points="480,45 540,45"/>
<polyline class="xY" points="510,30 510,30"/>
<polyline class="xO" points="570,60 570,60"/>
<rect class="oG" x="480" width="315" height="61"/>
<text class="mn" y="-8"><tspan x="0.5">113</tspan><tspan x="240.5">114</tspan><tspan x="480.5">115</tspan><tspan x="720.5">116</tspan></text>
<text class="s1" y="76.5"><tspan x="239">206</tspan><tspan x="479">152</tspan><tspan x="719">130</tspan><tspan x="959">86</tspan></text>
<text class="s2" y="89.7"><tspan x="239">146069</tspan><tspan x="479">146677</tspan><tspan x="719">147197</tspan><tspan x="959">147541</tspan></text>
<text class="s3" y="102.7"><tspan x="239">25.00%</tspan><tspan x="479">25.00%</tspan><tspan x="719">58.50%</tspan><tspan x="959">62.75%</tspan></text>
</g>

<g id="r29" transform="translate(31,4294.3)">
<rect class="bS" x="0" y="-10" width="960" height="81"/>
<use href="#grid"/>
<path class="uB" d="M90 45H134.5M420 45H464.4M570 45H614.6"/><path class="uO" d="M240 60H284.8"/><path class="uY" d="M480 30H554.5"/><path class="uR" d="M660 15H825"/><path class="uG" d="M840 0H944.5"/>
<polyline class="nG" points="0,0 150,0 300,0 840,0"/>
<polyline class="nR" points="30,15 180,15 660,15"/>
<polyline class="nY" points="60,30 210,30 330,30 480,30"/>
<polyline class="nB" points="90,45 360,45 420,45 570,45"/>
<polyline class="nO" points="240,60 390,60 630,60"/>
<text class="mn" y="-8"><tspan x="0.5">117</tspan><tspan x="240.5">118</tspan><tspan x="480.5">119</tspan><tspan x="720.5">120</tspan></text>
<text class="s1" y="76.5"><tspan x="239">184</tspan><tspan x="479">168</tspan><tspan x="719">136</tspan><tspan x="959">67</tspan></text>
<text class="s2" y="89.7"><tspan x="239">148277</tspan><tspan x="479">148949</tspan><tspan x="719">149493</tspan><tspan x="959">149761</tspan></text>
<text class="s3" y="102.7"><tspan x="239">62.75%</tspan><tspan x="479">62.75%</tspan><tspan x="719">62.75%</tspan><tspan x="959">62.73%</tspan></text>
</g>

<g id="r30" transform="translate(31,4435.3)">
<rect class="bS" x="0" y="-10" width="960" height="81"/>
<use href="#grid"/>
<polyline class="nO" points="0,60 45,60 90,60 135,60 240,60 285,60 330,60 375,60 480,60 525,60 570,60 615,60 720,60 765,60 810,60 855,60"/>
<polyline class="nY" points="30,30 60,30 120,30 150,30 270,30 300,30 360,30 390,30 510,30 540,30 600,30 630,30 750,30 780,30 840,30 870,30"/>
<polyline class="nG" points="15,0 75,0 105,0 165,0 190,0 230,0 255,0 315,0 345,0 405,0 430,0 470,0 495,0 555,0 585,0 645,0 670,0 710,0 735,0 795,0 825,0 885,0 910,0 950,0"/>
<polyline class="nR" points="200,15 220,15 440,15 460,15 680,15 700,15 920,15 940,15"/>
<polyline class="nB" points="180,45 210,45 420,45 450,45 660,45 690,45 900,45 930,45"/>
<rect class="oB" x="0" width="960" height="61"/>
<text class="mn" y="-8"><tspan x="0.5">121</tspan><tspan x="240.5">122</tspan><tspan x="480.5">123</tspan><tspan x="720.5">124</tspan></text>
<text class="s1" y="76.5"><tspan x="239">450</tspan><tspan x="479">450</tspan><tspan x="719">450</tspan><tspan x="959">450</tspan></text>
<text class="s2" y="89.7"><tspan x="239">153361</tspan><tspan x="479">156961</tspan><tspan x="719">160561</tspan><tspan x="959">164161</tspan></text>
<text class="s3" y="102.7"><tspan x="239">50.23%</tspan><tspan x="479">37.73%</tspan><tspan x="719">25.23%</tspan><tspan x="959">12.73%</tspan></text>
</g>

<g id="r31" transform="translate(31,4576.3)">
<rect class="bS" x="0" y="-10" width="960" height="81"/>
<use href="#grid"/>
<polyline class="nO" points="0,60 60,60 120,60 180,60 240,60 300,60 360,60 420,60 720,60 780,60 840,60 900,60"/>
<polyline class="nY" points="10,30 70,30 130,30 190,30 250,30 310,30 370,30 430,30 730,30 790,30 850,30 910,30"/>
<polyline class="nG" points="20,0 50,0 80,0 110,0 140,0 170,0 200,0 230,0 260,0 290,0 320,0 350,0 380,0 410,0 440,0 470,0 740,0 770,0 800,0 830,0 860,0 890,0 920,0 950,0"/>
<polyline class="nB" points="30,45 90,45 150,45 210,45 270,45 330,45 390,45 450,45 750,45 810,45 870,45 930,45"/>
<polyline class="nR" points="40,15 100,15 160,15 220,15 280,15 340,15 400,15 460,15 760,15 820,15 880,15 940,15"/>
<polyline class="xO" points="480,60 540,60 600,60 660,60"/>
<polyline class="xY" points="490,30 550,30 610,30 670,30"/>
<polyline class="xG" points="500,0 530,0 560,0 590,0 620,0 650,0 680,0 710,0"/>
<polyline class="xB" points="510,45 570,45 630,45 690,45"/>
<polyline class="xR" points="520,15 580,15 640,15 700,15"/>
<rect class="oG" x="480" width="230" height="61"/><rect class="oB" x="0" width="960" height="61"/>
<text class="mn" y="-8"><tspan x="0.5">125</tspan><tspan x="240.5">126</tspan><tspan x="480.5">127</tspan><tspan x="720.5">128</tspan></text>
<text class="s1" y="76.5"><tspan x="239">600</tspan><tspan x="479">600</tspan><tspan x="719">600</tspan><tspan x="959">600</tspan></text>
<text class="s2" y="89.7"><tspan x="239">168961</tspan><tspan x="479">173761</tspan><tspan x="719">178561</tspan><tspan x="959">183361</tspan></text>
<text class="s3" y="102.7"><tspan x="239">0.23%</tspan><tspan x="479">0.00%</tspan><tspan x="719">24.48%</tspan><tspan x="959">11.98%</tspan></text>
</g>

<g id="r32" transform="translate(31,4717.3)">
<rect class="bS" x="0" y="-10" width="243" height="81"/>
<use href="#grid"/>
<path class="uG" d="M9 0H240M450 0H494.4M930 0H960"/><path class="uR" d="M450 15H494.4M930 15H960"/>
<polyline class="nO" points="0,60 0,60"/>
<polyline class="nG" points="9,0 420,0 450,0 510,0 540,0 570,0 600,0 630,0 660,0 690,0 720,0 750,0 780,0 810,0 840,0 870,0 900,0 930,0"/>
<polyline class="nR" points="450,15 510,15 930,15"/>
<rect class="oB" x="0" width="243" height="61"/>
<text class="mn" y="-8"><tspan x="0.5">129</tspan><tspan x="240.5">130</tspan><tspan x="480.5">131</tspan><tspan x="720.5">132</tspan></text>
<text class="s1" y="76.5"><tspan x="239">96</tspan><tspan x="479">87</tspan><tspan x="719">206</tspan><tspan x="959">237</tspan></text>
<text class="s2" y="89.7"><tspan x="239">184129</tspan><tspan x="479">214477</tspan><tspan x="719">215301</tspan><tspan x="959">216249</tspan></text>
<text class="s3" y="102.7"><tspan x="239">0.00%</tspan><tspan x="479">0.00%</tspan><tspan x="719">0.00%</tspan><tspan x="959">0.00%</tspan></text>
</g>

<g id="r33" transform="translate(31,4858.3)">
<use href="#grid"/>
<path class="uG" d="M0 0H14.4M450 0H494.4"/><path class="uR" d="M0 15H14.4M450 15H494.4"/>
<polyline class="nG" points="30,0 60,0 90,0 120,0 150,0 180,0 210,0 240,0 270,0 300,0 330,0 360,0 390,0 420,0 450,0 510,0 540,0 570,0 600,0 630,0 660,0 690,0 720,0 750,0 780,0 810,0 840,0 870,0 900,0 930,0"/>
<polyline class="nR" points="30,15 450,15 510,15"/>
<text class="mn" y="-8"><tspan x="0.5">133</tspan><tspan x="240.5">134</tspan><tspan x="480.5">135</tspan><tspan x="720.5">136</tspan></text>
<text class="s1" y="76.5"><tspan x="239">206</tspan><tspan x="479">237</tspan><tspan x="719">206</tspan><tspan x="959">200</tspan></text>
<text class="s2" y="89.7"><tspan x="239">217073</tspan><tspan x="479">218021</tspan><tspan x="719">218845</tspan><tspan x="959">219645</tspan></text>
<text class="s3" y="102.7"><tspan x="239">0.00%</tspan><tspan x="479">0.00%</tspan><tspan x="719">0.00%</tspan><tspan x="959">0.00%</tspan></text>
</g>

<g id="r34" transform="translate(31,4999.3)">
<use href="#grid"/>
<path class="uR" d="M60 15H104.5M150 15H224.7M540 15H584.6M630 15H704.8"/><path class="uB" d="M60 45H104.5M150 45H224.7M540 45H584.6M630 45H704.8"/>
<polyline class="nR" points="0,15 30,15 60,15 150,15 540,15 630,15"/>
<polyline class="nB" points="60,45 150,45 540,45 630,45"/>
<polyline class="nG" points="120,0 600,0"/>
<polyline class="nY" points="120,30 600,30"/>
<text class="mn" y="-8"><tspan x="0.5">137</tspan><tspan x="240.5">138</tspan><tspan x="480.5">139</tspan><tspan x="720.5">140</tspan></text>
<text class="s1" y="76.5"><tspan x="239">248</tspan><tspan x="479">0</tspan><tspan x="719">198</tspan><tspan x="959">0</tspan></text>
<text class="s2" y="89.7"><tspan x="239">220637</tspan><tspan x="479">220637</tspan><tspan x="719">221429</tspan><tspan x="959">221429</tspan></text>
<text class="s3" y="102.7"><tspan x="239">0.00%</tspan><tspan x="479">0.00%</tspan><tspan x="719">0.00%</tspan><tspan x="959">0.00%</tspan></text>
</g>

<g id="r35" transform="translate(31,5140.3)">
<use href="#grid"/>
<path class="uR" d="M60 15H104.5M150 15H224.7M450 15H494.4M900 15H960"/><path class="uB" d="M60 45H104.5M150 45H224.7M900 45H960"/><path class="uG" d="M450 0H494.4"/>
<polyline class="nR" points="60,15 150,15 450,15 510,15 720,15 870,15 900,15"/>
<polyline class="nB" points="60,45 150,45 720,45 870,45 900,45"/>
<polyline class="nG" points="120,0 450,0 510,0 540,0 570,0 600,0 630,0 660,0 690,0 810,0"/>
<polyline class="nY" points="120,30 810,30"/>
<text class="mn" y="-8"><tspan x="0.5">141</tspan><tspan x="240.5">142</tspan><tspan x="480.5">143</tspan><tspan x="720.5">144</tspan></text>
<text class="s1" y="76.5"><tspan x="239">198</tspan><tspan x="479">62</tspan><tspan x="719">206</tspan><tspan x="959">224</tspan></text>
<text class="s2" y="89.7"><tspan x="239">222221</tspan><tspan x="479">222469</tspan><tspan x="719">223293</tspan><tspan x="959">224189</tspan></text>
<text class="s3" y="102.7"><tspan x="239">0.00%</tspan><tspan x="479">0.00%</tspan><tspan x="719">0.00%</tspan><tspan x="959">0.00%</tspan></text>
</g>

<g id="r36" transform="translate(31,5281.3)">
<use href="#grid"/>
<path class="uR" d="M0 15H584.6"/><path class="uB" d="M0 45H584.6"/><path class="uG" d="M705 0H840"/>
<polyline class="nB" points="615,45 635,45"/>
<polyline class="nG" points="625,0 645,0 665,0 685,0 705,0"/>
<polyline class="nY" points="655,30 675,30"/>
<polyline class="nR" points="695,15 695,15"/>
<text class="mn" y="-8"><tspan x="0.5">145</tspan><tspan x="240.5">146</tspan><tspan x="480.5">147</tspan><tspan x="720.5">148</tspan></text>
<text class="s1" y="76.5"><tspan x="239">96</tspan><tspan x="479">96</tspan><tspan x="719">295</tspan><tspan x="959">24</tspan></text>
<text class="s2" y="89.7"><tspan x="239">224573</tspan><tspan x="479">224957</tspan><tspan x="719">226137</tspan><tspan x="959">226233</tspan></text>
<text class="s3" y="102.7"><tspan x="239">0.00%</tspan><tspan x="479">0.00%</tspan><tspan x="719">0.00%</tspan><tspan x="959">0.00%</tspan></text>
</g>
</g>
</svg>
